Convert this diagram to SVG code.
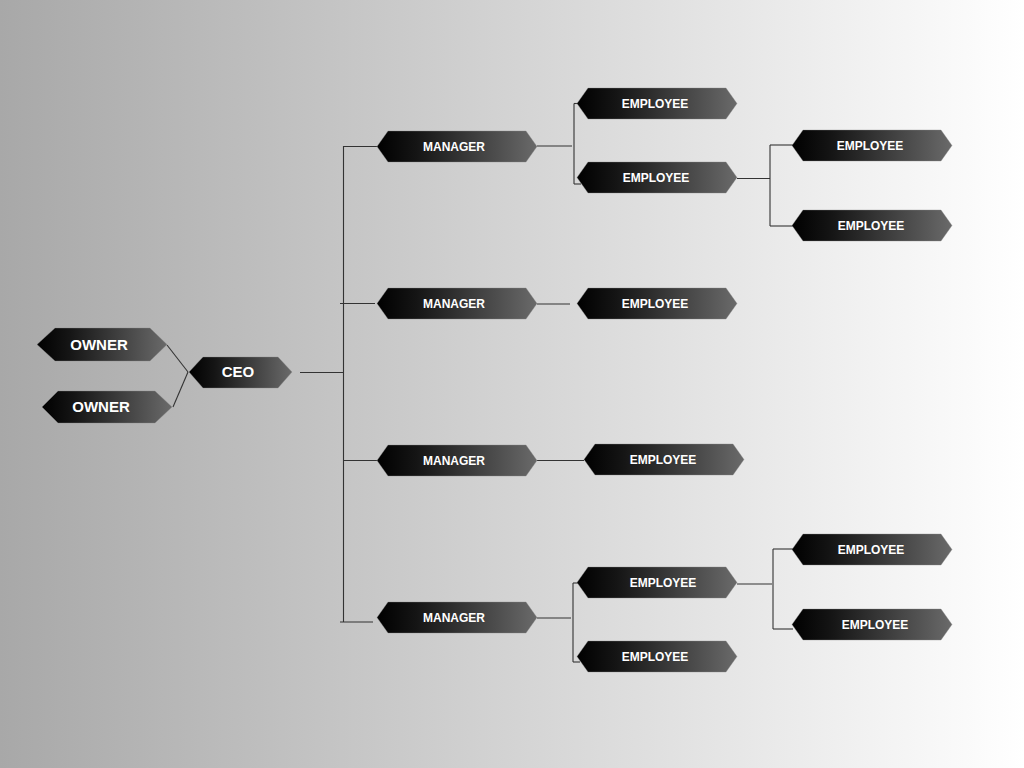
<svg xmlns="http://www.w3.org/2000/svg" width="1024" height="768" viewBox="0 0 1024 768">
<defs>
<linearGradient id="bg" x1="0" y1="0" x2="1" y2="0">
<stop offset="0" stop-color="#a8a8a8"/>
<stop offset="1" stop-color="#ffffff"/>
</linearGradient>
<linearGradient id="ng" x1="0" y1="0" x2="1" y2="0">
<stop offset="0" stop-color="#000000"/>
<stop offset="0.25" stop-color="#151515"/>
<stop offset="1" stop-color="#6a6a6a"/>
</linearGradient>
<style>
.n{fill:url(#ng);stroke:#8a8a8a;stroke-width:0.6;stroke-opacity:0.6}
.t{font-family:"Liberation Sans",Arial,sans-serif;font-weight:bold;fill:#ffffff;text-anchor:middle;font-size:12px}
.tb{font-size:15px}
.c line{stroke:#333333;stroke-width:1.1}
</style>
</defs>
<rect width="1024" height="768" fill="url(#bg)"/>
<g class="c" id="connectors">
<line x1="167" y1="345" x2="188" y2="372"/>
<line x1="173" y1="407" x2="188" y2="372"/>
<line x1="300" y1="372.5" x2="343" y2="372.5"/>
<line x1="343.5" y1="146" x2="343.5" y2="622"/>
<line x1="343" y1="146.5" x2="377" y2="146.5"/>
<line x1="340" y1="303.5" x2="375" y2="303.5"/>
<line x1="343" y1="460.5" x2="377" y2="460.5"/>
<line x1="340" y1="622" x2="373" y2="622"/>
<line x1="537" y1="146" x2="572" y2="146"/>
<line x1="574" y1="103.5" x2="574" y2="184"/>
<line x1="574" y1="103.5" x2="579" y2="103.5"/>
<line x1="574" y1="184" x2="581" y2="184"/>
<line x1="737" y1="178.5" x2="770" y2="178.5"/>
<line x1="770" y1="145" x2="770" y2="226"/>
<line x1="770" y1="145" x2="793" y2="145"/>
<line x1="770" y1="226" x2="793" y2="226"/>
<line x1="537" y1="304" x2="570" y2="304"/>
<line x1="537" y1="460.5" x2="584" y2="460.5"/>
<line x1="537" y1="618" x2="571" y2="618"/>
<line x1="573" y1="583" x2="573" y2="662"/>
<line x1="573" y1="583" x2="579" y2="583"/>
<line x1="573" y1="662" x2="580" y2="662"/>
<line x1="737" y1="584" x2="772" y2="584"/>
<line x1="773" y1="549" x2="773" y2="629"/>
<line x1="773" y1="549" x2="793" y2="549"/>
<line x1="773" y1="629" x2="793" y2="629"/>
</g>
<g id="owner1"><polygon class="n" points="37,344.5 55,328 150,328 167,344.5 150,361 55,361"/><text class="t tb" x="99" y="350">OWNER</text></g>
<g id="owner2"><polygon class="n" points="42,407 58,391 155,391 172,407 155,423 58,423"/><text class="t tb" x="101" y="412">OWNER</text></g>
<g id="ceo"><polygon class="n" points="189,372 203,357 278,357 292,372 278,388 203,388"/><text class="t tb" x="238" y="377">CEO</text></g>
<g id="manager1"><polygon class="n" points="377,146.5 388,131 526,131 537,146.5 526,162 388,162"/><text class="t" x="454" y="151">MANAGER</text></g>
<g id="manager2"><polygon class="n" points="377,303.5 388,288 526,288 537,303.5 526,319 388,319"/><text class="t" x="454" y="308">MANAGER</text></g>
<g id="manager3"><polygon class="n" points="377,460.5 388,445 526,445 537,460.5 526,476 388,476"/><text class="t" x="454" y="465">MANAGER</text></g>
<g id="manager4"><polygon class="n" points="377,617.5 388,602 526,602 537,617.5 526,633 388,633"/><text class="t" x="454" y="622">MANAGER</text></g>
<g id="employee1"><polygon class="n" points="577,103.5 588,88 726,88 737,103.5 726,119 588,119"/><text class="t" x="655" y="108">EMPLOYEE</text></g>
<g id="employee2"><polygon class="n" points="577,177.5 588,162 726,162 737,177.5 726,193 588,193"/><text class="t" x="656" y="182">EMPLOYEE</text></g>
<g id="employee3"><polygon class="n" points="792,145.5 803,130 941,130 952,145.5 941,161 803,161"/><text class="t" x="870" y="150">EMPLOYEE</text></g>
<g id="employee4"><polygon class="n" points="792,225.5 803,210 941,210 952,225.5 941,241 803,241"/><text class="t" x="871" y="230">EMPLOYEE</text></g>
<g id="employee5"><polygon class="n" points="577,303.5 588,288 726,288 737,303.5 726,319 588,319"/><text class="t" x="655" y="308">EMPLOYEE</text></g>
<g id="employee6"><polygon class="n" points="584,459.5 595,444 733,444 744,459.5 733,475 595,475"/><text class="t" x="663" y="464">EMPLOYEE</text></g>
<g id="employee7"><polygon class="n" points="577,582.5 588,567 726,567 737,582.5 726,598 588,598"/><text class="t" x="663" y="587">EMPLOYEE</text></g>
<g id="employee8"><polygon class="n" points="577,656.5 588,641 726,641 737,656.5 726,672 588,672"/><text class="t" x="655" y="661">EMPLOYEE</text></g>
<g id="employee9"><polygon class="n" points="792,549.5 803,534 941,534 952,549.5 941,565 803,565"/><text class="t" x="871" y="554">EMPLOYEE</text></g>
<g id="employee10"><polygon class="n" points="792,624.5 803,609 941,609 952,624.5 941,640 803,640"/><text class="t" x="875" y="629">EMPLOYEE</text></g>
</svg>
